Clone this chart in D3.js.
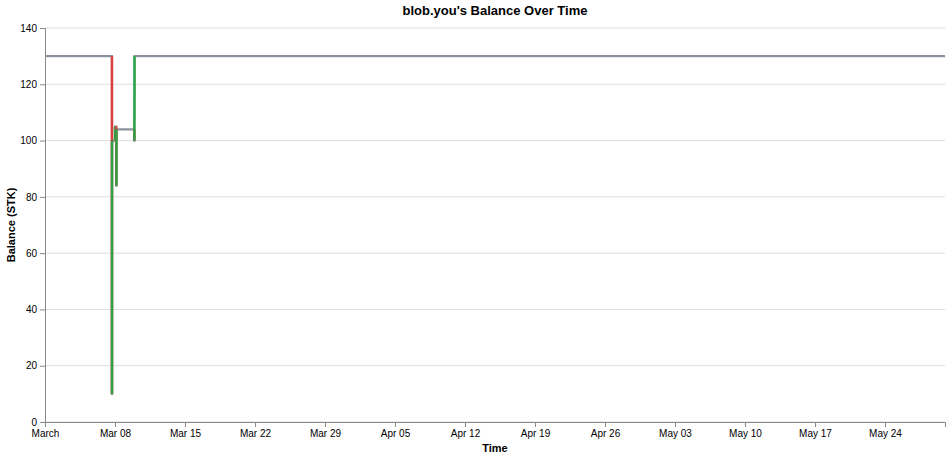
<!DOCTYPE html>
<html>
<head>
<meta charset="utf-8">
<title>Balance Over Time</title>
<script src="https://cdn.jsdelivr.net/npm/d3@7"></script>
<style>
  body { margin: 0; background: #fff; }
  text { font-family: "Liberation Sans", Arial, sans-serif; }
</style>
</head>
<body>
<script>
// balance history (UTC)
var times = [
  "2026-03-01T00:00Z", "2026-03-07T16:40Z", "2026-03-07T16:50Z",
  "2026-03-08T00:00Z", "2026-03-08T03:00Z", "2026-03-08T03:30Z",
  "2026-03-09T22:20Z", "2026-03-09T22:30Z", "2026-03-09T22:40Z",
  "2026-03-09T22:50Z", "2026-05-30T00:00Z"
];
var balances = [130, 10, 100, 105, 84, 104, 100, 108, 116, 130, 130];
var yTicks = [0, 20, 40, 60, 80, 100, 120, 140];
var domainStart = "2026-03-01T00:00Z", domainEnd = "2026-05-30T00:00Z";

var svgWidth = 951, svgHeight = 459;
var margin = {top: 28, right: 6, bottom: 37, left: 45},
    width = 900,
    height = 394;

var svg = d3.select("body").append("svg")
  .attr("width", svgWidth)
  .attr("height", svgHeight);

var g = svg.append("g")
  .attr("transform", "translate(" + margin.left + "," + margin.top + ")");

var data = times.map(function(t, i) { return {date: new Date(t), value: balances[i]}; });

var x = d3.scaleUtc().domain([new Date(domainStart), new Date(domainEnd)]).range([0, width]);
var y = d3.scaleLinear().domain([0, 140]).range([height, 0]);

// horizontal grid
g.append("g").selectAll("line").data(yTicks).enter().append("line")
  .attr("x1", 0).attr("x2", width)
  .attr("y1", function(d) { return y(d); }).attr("y2", function(d) { return y(d); })
  .attr("stroke", "#ddd").attr("stroke-width", 1);

// axes
var fmt = function(d) {
  return d3.utcMonth(d) < d ? d3.utcFormat("%b %d")(d) : d3.utcFormat("%B")(d);
};
var xAxis = d3.axisBottom(x).ticks(d3.utcWeek.every(1)).tickFormat(fmt).tickSize(5).tickPadding(3);
var yAxis = d3.axisLeft(y).tickValues(yTicks).tickSize(5).tickPadding(3);

var gx = g.append("g").attr("transform", "translate(0," + height + ")").call(xAxis);
var gy = g.append("g").call(yAxis);
[gx, gy].forEach(function(a) {
  a.select(".domain").attr("stroke", "#888");
  a.selectAll(".tick line").attr("stroke", "#888");
  a.selectAll(".tick text").attr("fill", "#000").style("font-size", "10px")
    .style("font-family", "'Liberation Sans', Arial, sans-serif");
});
gx.selectAll(".tick text").filter(function(d) { return x(d) > width - 20; }).remove();

// step line of the balance
var line = d3.line()
  .curve(d3.curveStepAfter)
  .x(function(d) { return x(d.date); })
  .y(function(d) { return y(d.value); });

g.append("path")
  .datum(data)
  .attr("fill", "none")
  .attr("stroke", "#8a929e")
  .attr("stroke-width", 2.2)
  .attr("d", line);

// coloured changes: red down, green up
var changes = data.slice(1).map(function(d, i) {
  return {date: d.date, from: data[i].value, to: d.value};
}).filter(function(c) { return c.from !== c.to; });

g.append("g").selectAll("line").data(changes).enter().append("line")
  .attr("x1", function(d) { return x(d.date); })
  .attr("x2", function(d) { return x(d.date); })
  .attr("y1", function(d) { return y(d.from); })
  .attr("y2", function(d) { return y(d.to); })
  .attr("stroke", function(d) { return d.to < d.from ? "#e03c3c" : "#28a745"; })
  .attr("stroke-width", 2.5)
  .attr("opacity", 0.95);

// titles
svg.append("text")
  .attr("x", margin.left + width / 2).attr("y", 15)
  .attr("text-anchor", "middle")
  .style("font-size", "13px").style("font-weight", "bold")
  .text("blob.you's Balance Over Time");

svg.append("text")
  .attr("x", margin.left + width / 2).attr("y", 452)
  .attr("text-anchor", "middle")
  .style("font-size", "11px").style("font-weight", "bold")
  .text("Time");

svg.append("text")
  .attr("transform", "translate(15," + (margin.top + height / 2) + ") rotate(-90)")
  .attr("text-anchor", "middle")
  .style("font-size", "11px").style("font-weight", "bold")
  .text("Balance (STK)");
</script>
</body>
</html>
